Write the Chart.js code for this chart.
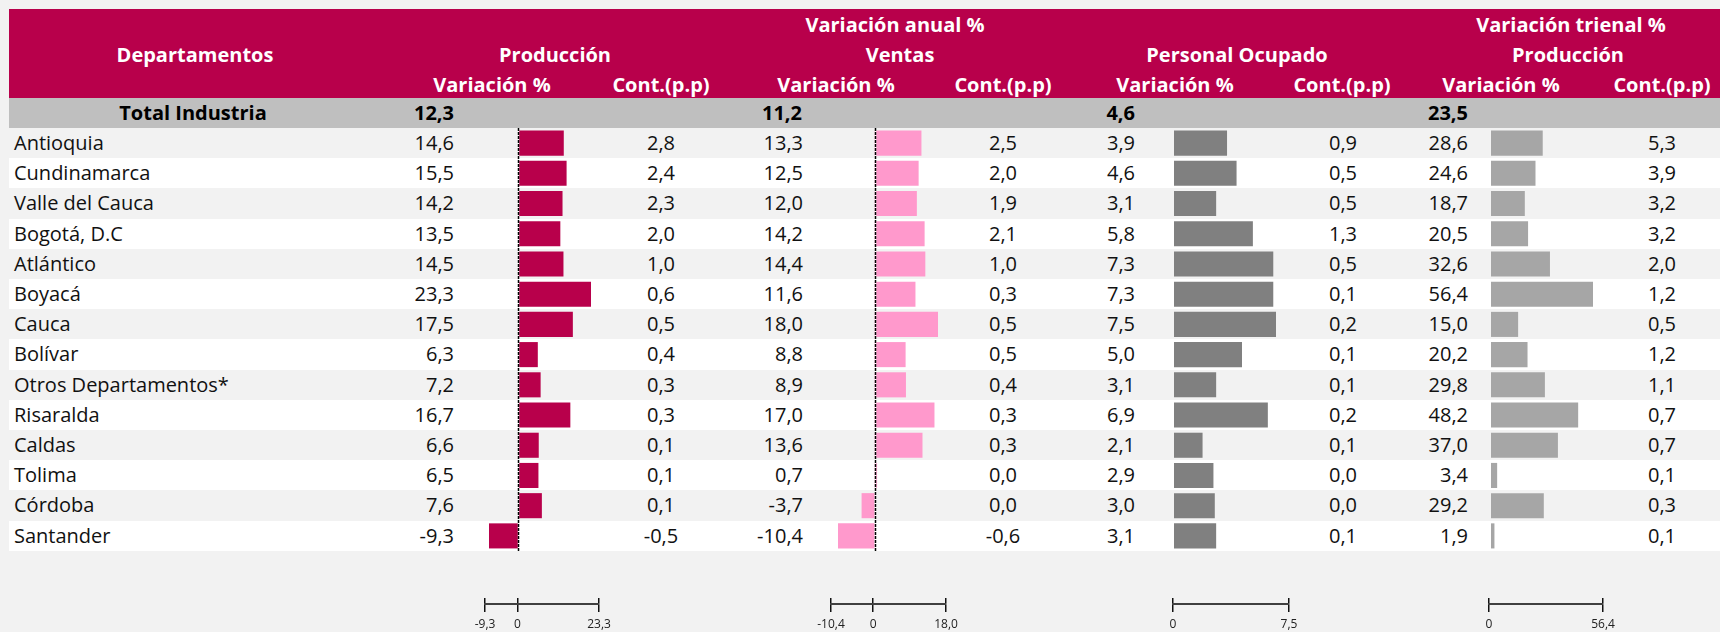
<!DOCTYPE html>
<html lang="es">
<head>
<meta charset="UTF-8">
<title>Variación por departamentos</title>
<script src="https://cdn.jsdelivr.net/npm/chart.js"></script>
<style>
  body {
    margin: 0;
    width: 1720px;
    height: 632px;
    overflow: hidden;
    position: relative;
    background: #f2f2f2;
    font-family: 'Open Sans', sans-serif;
  }
  .band { position: absolute; left: 9px; width: 1711px; }
  .head { top: 9px; height: 89px; background: #b8004b; }
  .total { top: 98px; height: 30px; background: #bfbfbf; }
  .row { background: #fff; }
  .txt {
    position: absolute;
    height: 30px;
    line-height: 30px;
    font-size: 20px;
    white-space: nowrap;
    color: #111;
  }
  .txt.h { color: #fff; font-weight: 700; }
  .txt.b { font-weight: 700; color: #000; }
  canvas { position: absolute; }
</style>
</head>
<body>
<div class="band head"></div>
<div class="band total"></div>

<script>
const departamentos = ["Antioquia", "Cundinamarca", "Valle del Cauca", "Bogotá, D.C", "Atlántico", "Boyacá", "Cauca",
  "Bolívar", "Otros Departamentos*", "Risaralda", "Caldas", "Tolima", "Córdoba", "Santander"];

const prodVar    = [14.6, 15.5, 14.2, 13.5, 14.5, 23.3, 17.5, 6.3, 7.2, 16.7, 6.6, 6.5, 7.6, -9.3];
const prodCont   = [2.8, 2.4, 2.3, 2.0, 1.0, 0.6, 0.5, 0.4, 0.3, 0.3, 0.1, 0.1, 0.1, -0.5];
const ventasVar  = [13.3, 12.5, 12.0, 14.2, 14.4, 11.6, 18.0, 8.8, 8.9, 17.0, 13.6, 0.7, -3.7, -10.4];
const ventasCont = [2.5, 2.0, 1.9, 2.1, 1.0, 0.3, 0.5, 0.5, 0.4, 0.3, 0.3, 0.0, 0.0, -0.6];
const persVar    = [3.9, 4.6, 3.1, 5.8, 7.3, 7.3, 7.5, 5.0, 3.1, 6.9, 2.1, 2.9, 3.0, 3.1];
const persCont   = [0.9, 0.5, 0.5, 1.3, 0.5, 0.1, 0.2, 0.1, 0.1, 0.2, 0.1, 0.0, 0.0, 0.1];
const trienVar   = [28.6, 24.6, 18.7, 20.5, 32.6, 56.4, 15.0, 20.2, 29.8, 48.2, 37.0, 3.4, 29.2, 1.9];
const trienCont  = [5.3, 3.9, 3.2, 3.2, 2.0, 1.2, 0.5, 1.2, 1.1, 0.7, 0.7, 0.1, 0.3, 0.1];

const totales = [12.3, 11.2, 4.6, 23.5];

// scale ends shown under each bar column
const prodTicks   = [-9.3, 0, 23.3];
const ventasTicks = [-10.4, 0, 18.0];
const persTicks   = [0, 7.5];
const trienTicks  = [0, 56.4];

const ROW_TOP = 128, ROW_H = 30.2;
const fmt = v => v.toFixed(1).replace('.', ',');

Chart.defaults.font.family = "'Open Sans', sans-serif";

function place(text, x, y, align, cls) {
  const d = document.createElement('div');
  d.className = 'txt' + (cls ? ' ' + cls : '');
  d.textContent = text;
  d.style.top = (y - 15) + 'px';
  if (align === 'left') {
    d.style.left = x + 'px';
  } else if (align === 'right') {
    d.style.left = (x - 300) + 'px';
    d.style.width = '300px';
    d.style.textAlign = 'right';
  } else {
    d.style.left = (x - 200) + 'px';
    d.style.width = '400px';
    d.style.textAlign = 'center';
  }
  document.body.appendChild(d);
}

// striped rows
departamentos.forEach((_, i) => {
  if (i % 2 === 1) {
    const r = document.createElement('div');
    r.className = 'band row';
    r.style.top = (ROW_TOP + i * ROW_H) + 'px';
    r.style.height = ROW_H + 'px';
    document.body.appendChild(r);
  }
});

// header
place('Variación anual %', 895, 25, 'center', 'h');
place('Variación trienal %', 1571, 25, 'center', 'h');
place('Departamentos', 195, 55, 'center', 'h');
place('Producción', 555, 55, 'center', 'h');
place('Ventas', 900, 55, 'center', 'h');
place('Personal Ocupado', 1237, 55, 'center', 'h');
place('Producción', 1568, 55, 'center', 'h');
[[492, 661], [836, 1003], [1175, 1342], [1501, 1662]].forEach(([a, b]) => {
  place('Variación %', a, 85, 'center', 'h');
  place('Cont.(p.p)', b, 85, 'center', 'h');
});

// total row
place('Total Industria', 193, 113, 'center', 'b');
[454, 802, 1135, 1468].forEach((x, i) => place(fmt(totales[i]), x, 113, 'right', 'b'));

// body text
const columns = [
  [prodVar, 454, 'right'], [prodCont, 661, 'center'],
  [ventasVar, 803, 'right'], [ventasCont, 1003, 'center'],
  [persVar, 1135, 'right'], [persCont, 1343, 'center'],
  [trienVar, 1468, 'right'], [trienCont, 1662, 'center']
];
departamentos.forEach((dep, i) => {
  const y = ROW_TOP + i * ROW_H + 15;
  place(dep, 14, y, 'left');
  columns.forEach(([vals, x, al]) => place(fmt(vals[i]), x, y, al));
});

const zeroLine = {
  id: 'zeroLine',
  afterDatasetsDraw(chart) {
    const ctx = chart.ctx;
    const x = Math.round(chart.scales.x.getPixelForValue(0)) + 0.5;
    ctx.save();
    ctx.lineWidth = 1.5;
    ctx.strokeStyle = '#fff';
    ctx.beginPath(); ctx.moveTo(x, 0); ctx.lineTo(x, chart.height); ctx.stroke();
    ctx.strokeStyle = '#000';
    ctx.setLineDash([3, 1]);
    ctx.beginPath(); ctx.moveTo(x, 0); ctx.lineTo(x, chart.height); ctx.stroke();
    ctx.restore();
  }
};

function barChart(left, width, values, color, min, max, withZero) {
  const c = document.createElement('canvas');
  c.width = width;
  c.height = Math.round(ROW_H * departamentos.length);
  c.style.left = left + 'px';
  c.style.top = ROW_TOP + 'px';
  document.body.appendChild(c);
  new Chart(c, {
    type: 'bar',
    data: {
      labels: departamentos,
      datasets: [{ data: values, backgroundColor: color, barPercentage: 0.83, categoryPercentage: 1 }]
    },
    options: {
      indexAxis: 'y',
      responsive: false,
      animation: false,
      events: [],
      layout: { padding: 0 },
      plugins: { legend: { display: false }, tooltip: { enabled: false } },
      scales: {
        x: { display: false, min: min, max: max },
        y: { display: false }
      }
    },
    plugins: withZero ? [zeroLine] : []
  });
}

function axisChart(left, width, ticks) {
  const pad = 24;
  const c = document.createElement('canvas');
  c.width = width + pad * 2;
  c.height = 45;
  c.style.left = (left - pad) + 'px';
  c.style.top = '587px';
  document.body.appendChild(c);
  new Chart(c, {
    type: 'scatter',
    data: { datasets: [{ data: [] }] },
    options: {
      responsive: false,
      animation: false,
      events: [],
      layout: { padding: { left: pad, right: pad, top: 11, bottom: 0 } },
      plugins: { legend: { display: false }, tooltip: { enabled: false } },
      scales: {
        x: {
          min: ticks[0],
          max: ticks[ticks.length - 1],
          afterBuildTicks: ax => { ax.ticks = ticks.map(v => ({ value: v })); },
          afterFit: ax => { ax.height = 28; },
          grid: { color: '#111', lineWidth: 1.5, tickLength: 8, drawOnChartArea: true },
          border: { color: '#404040', width: 2 },
          ticks: {
            autoSkip: false, maxRotation: 0, padding: 5, color: '#222',
            font: { size: 12 },
            callback: v => v === 0 ? '0' : fmt(v)
          }
        },
        y: { display: false }
      }
    }
  });
}

barChart(489, 102, prodVar, '#b8004b', prodTicks[0], prodTicks[2], true);
barChart(838, 100, ventasVar, '#ff99cc', ventasTicks[0], ventasTicks[2], true);
barChart(1174, 102, persVar, '#808080', persTicks[0], persTicks[1], false);
barChart(1491, 102, trienVar, '#a6a6a6', trienTicks[0], trienTicks[1], false);

axisChart(485, 114, prodTicks);
axisChart(831, 115, ventasTicks);
axisChart(1173, 116, persTicks);
axisChart(1489, 114, trienTicks);
</script>
</body>
</html>
